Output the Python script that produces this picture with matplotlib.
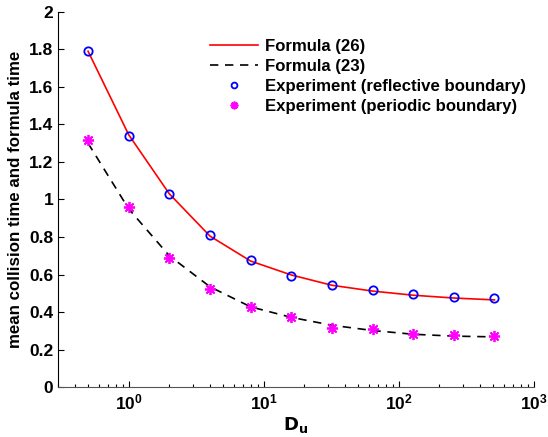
import matplotlib
matplotlib.use("Agg")
import matplotlib.pyplot as plt
from matplotlib.ticker import LogLocator, NullFormatter

plt.rcParams['font.family'] = ['Liberation Sans', 'DejaVu Sans']
plt.rcParams['font.weight'] = 'bold'

# data
du = [0.5, 1, 2, 4, 8, 16, 32, 64, 128, 256, 512]
formula_26 = [1.79, 1.345, 1.03, 0.805, 0.672, 0.598, 0.543, 0.512, 0.490, 0.475, 0.465]
formula_23 = [1.30, 0.950, 0.700, 0.535, 0.428, 0.372, 0.330, 0.302, 0.282, 0.272, 0.268]
exp_reflective = [1.792, 1.339, 1.029, 0.812, 0.679, 0.592, 0.544, 0.516, 0.496, 0.480, 0.473]
exp_periodic = [1.317, 0.958, 0.690, 0.523, 0.425, 0.375, 0.313, 0.309, 0.281, 0.276, 0.274]

fig = plt.figure(figsize=(5.48, 4.37), dpi=100)
ax = fig.add_axes([0.106, 0.114, 0.868, 0.859])

ax.plot(du, formula_26, color='red', lw=1.2, label='Formula (26)')
ax.plot(du, formula_23, color='black', lw=1.2, ls=(0, (5, 4)), label='Formula (23)')
ax.plot(du, exp_reflective, ls='none', marker='o', mfc='none', mec='blue',
        mew=1.3, ms=6, label='Experiment (reflective boundary)')
ax.plot(du, exp_periodic, ls='none', marker=(8, 2, 0), color='magenta',
        mew=1.3, ms=8, label='Experiment (periodic boundary)')

ax.set_xscale('log')
ax.set_xlim(0.3, 1000)
ax.set_ylim(0, 2)
ax.set_yticks([0, 0.2, 0.4, 0.6, 0.8, 1, 1.2, 1.4, 1.6, 1.8, 2])
ax.set_yticklabels(['0', '0.2', '0.4', '0.6', '0.8', '1', '1.2', '1.4', '1.6', '1.8', '2'])
ax.xaxis.set_major_locator(LogLocator(base=10, numticks=10))
ax.xaxis.set_minor_locator(LogLocator(base=10, subs=range(2, 10), numticks=20))
ax.xaxis.set_minor_formatter(NullFormatter())

for s in ['top', 'right']:
    ax.spines[s].set_visible(False)
ax.spines['bottom'].set_color('#555555')
ax.tick_params(direction='in', labelsize=12.5, length=4, width=0.8)
ax.tick_params(which='minor', direction='in', length=2, width=0.8)

ax.set_xlabel(r'$\mathbf{D_u}$', fontsize=13, labelpad=2)
ax.set_ylabel('mean collision time and formula time', fontsize=12.2, fontweight='bold')

leg = ax.legend(loc='upper left', bbox_to_anchor=(0.288, 0.968), frameon=False,
                fontsize=12.1, handlelength=2.85, handletextpad=0.4,
                labelspacing=0.3, markerscale=0.7)
for t in leg.get_texts():
    t.set_fontweight('bold')

fig.savefig('out.png', dpi=100)
